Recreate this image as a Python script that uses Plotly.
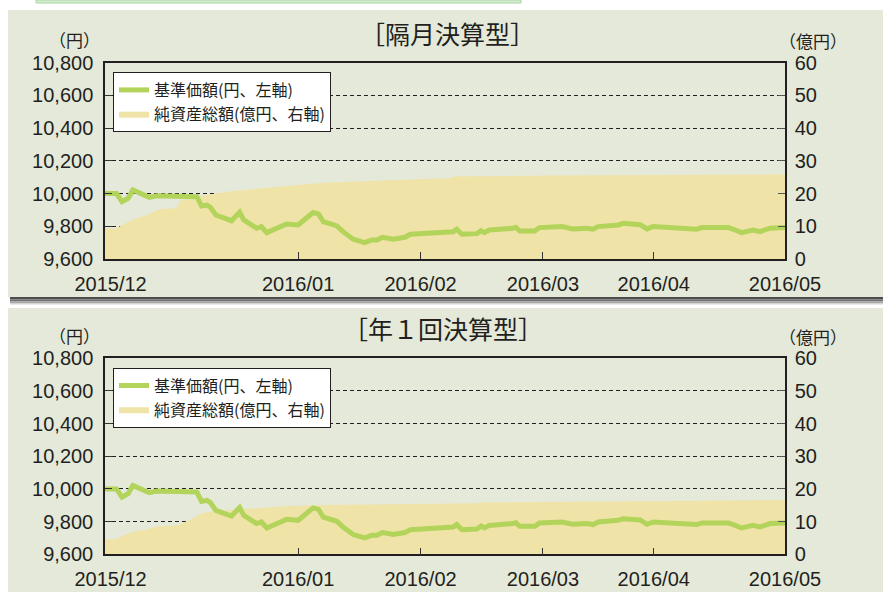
import plotly.graph_objects as go

W, H = 883, 592

# ---- data (x = position on the chart's day scale, 0..100) ----
tick_pos = [0, 28.4, 46.4, 64.4, 80.7, 100]
tick_labels = ["\u00a0\u00a02015/12", "2016/01", "2016/02", "2016/03", "2016/04", "2016/05"]

nav_x = [0, 1.7, 2.5, 3.4, 4.1, 5.2, 6.5, 7.6, 13.5, 14.2, 15.0, 15.5, 16.3, 18.6,
         19.8, 20.4, 22.3, 23.0, 23.8, 26.7, 27.5, 28.4, 30.6, 31.4, 32.1, 34.1,
         35.0, 36.5, 38.2, 39.2, 40.0, 40.8, 42.4, 44.1, 44.9, 47.3, 49.0, 51.2,
         51.7, 52.5, 54.7, 55.3, 55.8, 56.5, 60.0, 60.4, 61.0, 63.2, 63.9, 67.2,
         68.8, 70.8, 71.8, 72.5, 75.5, 76.2, 78.7, 79.7, 80.6, 83.1, 85.0, 87.0,
         87.8, 89.5, 91.7, 92.7, 93.6, 95.3, 96.3, 97.8, 99.8, 100]
nav_top = [10000, 10000, 9950, 9971, 10022, 10005, 9977, 9987, 9981, 9924, 9930, 9916,
           9869, 9834, 9886, 9839, 9788, 9798, 9761, 9814, 9814, 9808, 9884, 9875,
           9828, 9802, 9767, 9721, 9700, 9716, 9716, 9733, 9721, 9733, 9751, 9757,
           9763, 9767, 9782, 9751, 9755, 9773, 9761, 9777, 9788, 9794, 9771, 9771,
           9792, 9798, 9784, 9788, 9782, 9798, 9808, 9818, 9810, 9784, 9798, 9794,
           9784, 9782, 9792, 9794, 9792, 9777, 9761, 9777, 9767, 9788, 9792, 9792]
nav_bottom = list(nav_top)

aum_top_x = [0, 1.7, 2.5, 4.2, 6.1, 8.1, 10.5, 11.0, 13.5, 16.4, 18.9, 28.2, 32.1,
             41.9, 50.7, 51.2, 65.0, 100]
aum_top = [9.3, 9.3, 10.4, 12.1, 13.4, 15.3, 15.5, 17.7, 19.0, 20.1, 20.8, 22.6, 23.3,
           24.1, 24.7, 25.2, 25.5, 25.9]

aum_bot_x = [0, 1.7, 2.5, 4.2, 6.1, 8.1, 10.5, 12.5, 14.0, 15.4, 19.9, 27.2, 32.1,
             41.9, 55.1, 55.6, 100]
aum_bot = [4.6, 4.6, 5.6, 6.9, 7.7, 8.7, 8.8, 10.5, 12.3, 13.0, 13.8, 14.8, 15.1,
           15.3, 15.6, 15.9, 16.6]

titles = ["［隔月決算型］", "［年１回決算型］"]
name_nav = "基準価額(円、左軸)"
name_aum = "純資産総額(億円、右軸)"

# ---- styles ----
LINE_C = "#b3d45a"
AREA_C = "#f0e3a8"
PANEL_C = "#e4e9d9"
TXT = "#231f20"
NUM_FONT = "Liberation Sans, Arial, sans-serif"
JP_FONT = "Noto Sans CJK JP, sans-serif"

def py(p):
    return 1 - p / H

fig = go.Figure()

fig.add_trace(go.Scatter(x=aum_top_x, y=aum_top, mode="lines", fill="tozeroy",
                         fillcolor=AREA_C, line=dict(width=0, color=AREA_C),
                         name=name_aum, xaxis="x", yaxis="y", legend="legend",
                         legendrank=2, hoverinfo="skip"))
fig.add_trace(go.Scatter(x=nav_x, y=nav_top, mode="lines",
                         line=dict(width=5, color=LINE_C),
                         name=name_nav, xaxis="x", yaxis="y2", legend="legend",
                         legendrank=1, hoverinfo="skip"))
fig.add_trace(go.Scatter(x=aum_bot_x, y=aum_bot, mode="lines", fill="tozeroy",
                         fillcolor=AREA_C, line=dict(width=0, color=AREA_C),
                         name=name_aum, xaxis="x2", yaxis="y3", legend="legend2",
                         legendrank=2, hoverinfo="skip"))
fig.add_trace(go.Scatter(x=nav_x, y=nav_bottom, mode="lines",
                         line=dict(width=5, color=LINE_C),
                         name=name_nav, xaxis="x2", yaxis="y4", legend="legend2",
                         legendrank=1, hoverinfo="skip"))

xdom = [105 / W, 785 / W]
top_dom = [py(259), py(62.7)]
bot_dom = [py(554.3), py(358.3)]

tickfont = dict(family=NUM_FONT, size=20, color=TXT)

def xax(domain_anchor):
    return dict(domain=xdom, anchor=domain_anchor, range=[0, 100],
                tickmode="array", tickvals=tick_pos, ticktext=tick_labels,
                ticks="inside", ticklen=7, tickwidth=1.2, tickcolor="#333",
                showline=True, linecolor=TXT, linewidth=1.5, mirror=True,
                showgrid=False, zeroline=False, tickfont=tickfont,
                ticklabelstandoff=6, fixedrange=True, automargin=False)

def yright(dom, xa):
    return dict(domain=dom, anchor=xa, side="right", range=[0, 60], dtick=10,
                tick0=0, ticks="inside", ticklen=7, tickwidth=1.2, tickcolor="#555",
                showline=True, linecolor=TXT, linewidth=1.5,
                showgrid=True, gridcolor=TXT, gridwidth=1, griddash="4px,3px",
                zeroline=False, tickfont=tickfont, ticklabelstandoff=4,
                fixedrange=True, automargin=False)

def yleft(base, xa):
    return dict(overlaying=base, anchor=xa, side="left", range=[9600, 10800],
                dtick=200, tick0=9600, tickformat=",d", ticks="inside", ticklen=7,
                tickwidth=1.2, tickcolor="#333", showline=True, linecolor=TXT,
                linewidth=1.5, showgrid=False, zeroline=False, tickfont=tickfont,
                ticklabelstandoff=6, fixedrange=True, automargin=False)

shapes = []
shapes.append(dict(type="rect", xref="paper", yref="paper", x0=36 / W, x1=521 / W,
                   y0=py(3), y1=py(0), fillcolor="#d6ecd0",
                   line=dict(color="#a9d6a1", width=1), layer="below"))
shapes.append(dict(type="rect", xref="paper", yref="paper", x0=8 / W, x1=1,
                   y0=py(297), y1=py(10), fillcolor=PANEL_C, line=dict(width=0),
                   layer="below"))
shapes.append(dict(type="rect", xref="paper", yref="paper", x0=8 / W, x1=1,
                   y0=py(592), y1=py(308), fillcolor=PANEL_C, line=dict(width=0),
                   layer="below"))
for a, b, c in [(297, 299.5, "#4d4d4d"), (299.5, 301.5, "#707070"),
                (301.5, 303.5, "#a8a8a8"), (303.5, 304.5, "#d5d5d5")]:
    shapes.append(dict(type="rect", xref="paper", yref="paper", x0=10 / W, x1=1,
                       y0=py(b), y1=py(a), fillcolor=c, line=dict(width=0),
                       layer="below"))

annotations = []
for i, off in enumerate([0, 295.6]):
    annotations.append(dict(text=titles[i], xref="paper", yref="paper",
                            x=(447.5 if i == 0 else 443) / W, y=py(32.5 + off),
                            xanchor="center", yanchor="middle", showarrow=False,
                            font=dict(family=JP_FONT, size=25, color=TXT)))
    annotations.append(dict(text="（円）", xref="paper", yref="paper",
                            x=74 / W, y=py(40 + off), xanchor="center",
                            yanchor="middle", showarrow=False,
                            font=dict(family=JP_FONT, size=17, color=TXT)))
    annotations.append(dict(text="（億円）", xref="paper", yref="paper",
                            x=813 / W, y=py(40.5 + off), xanchor="center",
                            yanchor="middle", showarrow=False,
                            font=dict(family=JP_FONT, size=17, color=TXT)))

legend_style = dict(xanchor="left", yanchor="top", bgcolor="white",
                    bordercolor=TXT, borderwidth=1,
                    font=dict(family=JP_FONT, size=16, color=TXT),
                    tracegroupgap=0, itemwidth=30, traceorder="normal")

fig.update_layout(
    width=W, height=H, autosize=False,
    margin=dict(l=0, r=0, t=0, b=0, autoexpand=False),
    paper_bgcolor="white", plot_bgcolor="white",
    showlegend=True,
    xaxis=xax("y"), yaxis=yright(top_dom, "x"), yaxis2=yleft("y", "x"),
    xaxis2=xax("y3"), yaxis3=yright(bot_dom, "x2"), yaxis4=yleft("y3", "x2"),
    legend=dict(x=113 / W, y=py(72), **legend_style),
    legend2=dict(x=113 / W, y=py(72 + 295.6), **legend_style),
    shapes=shapes, annotations=annotations,
)

fig.write_html("out.html", post_script="document.body.style.margin='0px';",
               config={"displayModeBar": False})
